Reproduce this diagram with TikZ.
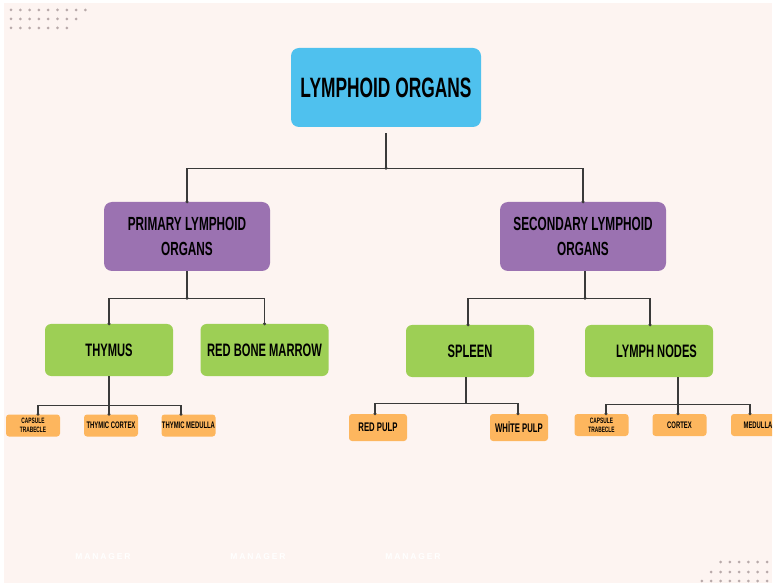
\documentclass[tikz,border=0pt]{standalone}
\usepackage{fontspec}
\newfontfamily\cond[FakeStretch=0.62]{Liberation Sans}
\newfontfamily\wmfont[LetterSpace=22]{Liberation Sans}
\definecolor{bg}{HTML}{FDF4F1}
\definecolor{cblue}{HTML}{4FC1EE}
\definecolor{cpurple}{HTML}{9B72B1}
\definecolor{cgreen}{HTML}{9DCF55}
\definecolor{corange}{HTML}{FDB65E}
\definecolor{cline}{HTML}{3A3A3A}
\definecolor{cdot}{HTML}{B8AAAA}
\begin{document}
\begin{tikzpicture}[x=1pt,y=-1pt,
  box/.style={rounded corners=#1, inner sep=0pt, align=center, text=black},
  lvlA/.style={box=8pt, fill=cblue, minimum width=190pt, minimum height=79pt,
     font=\cond\bfseries\fontsize{28}{30}\selectfont},
  lvlB/.style={box=8pt, fill=cpurple, minimum width=166pt, minimum height=69pt,
     font=\cond\bfseries\fontsize{19}{25}\selectfont},
  lvlC/.style={box=6pt, fill=cgreen, minimum width=128pt, minimum height=52pt,
     font=\cond\bfseries\fontsize{18}{20}\selectfont},
  lvlD/.style={box=3pt, fill=corange, minimum width=54pt, minimum height=22pt,
     font=\cond\bfseries\fontsize{9.5}{9.5}\selectfont},
  lvlDs/.style={box=3pt, fill=corange, minimum width=54pt, minimum height=22pt,
     font=\cond\bfseries\fontsize{7.8}{9}\selectfont},
  lvlE/.style={box=3pt, fill=corange, minimum width=58pt, minimum height=27pt,
     font=\cond\bfseries\fontsize{12.5}{13}\selectfont},
  conn/.style={draw=cline, line width=1.1pt},
  jdot/.style={fill=cline},
  wm/.style={text=white, font=\wmfont\bfseries\fontsize{8.5}{9}\selectfont, inner sep=0pt}
]
\useasboundingbox (0,0) rectangle (774,585);
\fill[white] (0,0) rectangle (774,585);
\fill[bg] (4,3) rectangle (772,583);
\begin{scope}
\clip (4,3) rectangle (772,583);

% decorative dots
\foreach \r/\n in {10/9,19/8,28/7}{
  \foreach \i in {1,...,\n}{
    \fill[cdot] ({11+(\i-1)*9.3},\r) circle (1.5);
  }
}
\foreach \r/\n in {562/6,572/7,581/8}{
  \foreach \i in {1,...,\n}{
    \fill[cdot] ({767-(\i-1)*9.3},\r) circle (1.5);
  }
}

% watermark
\node[wm] (wm1) at (103,557) {MANAGER};
\node[wm] (wm2) at (258,557) {MANAGER};
\node[wm] (wm3) at (413,557) {MANAGER};

% nodes
\node[lvlA] (top) at (386,87.5) {LYMPHOID ORGANS};
\node[lvlB] (prim) at (187,236.5) {PRIMARY LYMPHOID\\ORGANS};
\node[lvlB] (sec) at (583,236.5) {SECONDARY LYMPHOID\\ORGANS};
\node[lvlC] (thy) at (109,350) {THYMUS};
\node[lvlC] (rbm) at (264.5,350) {RED BONE MARROW};
\node[lvlC] (spl) at (470,351) {SPLEEN};
\node[lvlC] (lym) at (649,351) {\hspace*{15pt}LYMPH NODES};
\node[lvlDs] (cap1) at (33,425.5) {CAPSULE\\TRABECLE};
\node[lvlD] (tcor) at (111,425.5) {THYMIC CORTEX};
\node[lvlD] (tmed) at (188.5,425.5) {THYMIC MEDULLA};
\node[lvlE] (rp) at (378,427.5) {RED PULP};
\node[lvlE] (wp) at (519,427.5) {WHİTE PULP};
\node[lvlDs] (cap2) at (601.5,425) {CAPSULE\\TRABECLE};
\node[lvlD] (lcor) at (679.5,425) {CORTEX};
\node[lvlD] (lmed) at (758,425) {MEDULLA};

% connectors level 1
\coordinate (j1) at ([yshift=-41pt]top.south);
\draw[conn] ([yshift=-6pt]top.south) -- (j1);
\draw[conn] (prim.north) |- (j1) -| (sec.north);
\foreach \p in {j1, prim.north, sec.north} \fill[jdot] (\p) circle (1.7);

% primary
\coordinate (j2) at ([yshift=-27pt]prim.south);
\draw[conn] (prim.south) -- (j2);
\draw[conn] (thy.north) |- (j2) -| (rbm.north);
\foreach \p in {j2, thy.north, rbm.north} \fill[jdot] (\p) circle (1.7);

% secondary
\coordinate (j3) at ([xshift=2pt,yshift=-27pt]sec.south);
\draw[conn] ([xshift=2pt]sec.south) -- (j3);
\draw[conn] ([xshift=-2pt]spl.north) coordinate (s1) |- (j3) -| ([xshift=1pt]lym.north) coordinate (s2);
\foreach \p in {j3, s1, s2} \fill[jdot] (\p) circle (1.7);

% thymus
\coordinate (j4) at ([yshift=-29pt]thy.south);
\draw[conn] (thy.south) -- (j4);
\draw[conn] ([xshift=5pt]cap1.north) coordinate (t1) |- (j4);
\draw[conn] ([xshift=-2pt]tcor.north) coordinate (t2) -- (t2 |- j4);
\draw[conn] (j4) -| ([xshift=-7.5pt]tmed.north) coordinate (t3);
\foreach \p in {t1, t2, t3} \fill[jdot] (\p) circle (1.6);

% spleen
\coordinate (j5) at ([xshift=-4pt,yshift=-26pt]spl.south);
\draw[conn] ([xshift=-4pt]spl.south) -- (j5);
\draw[conn] ([xshift=-3pt]rp.north) coordinate (r1) |- (j5) -| ([xshift=-1pt]wp.north) coordinate (r2);
\foreach \p in {r1, r2} \fill[jdot] (\p) circle (1.6);

% lymph nodes
\coordinate (j6) at ([xshift=29pt,yshift=-27pt]lym.south);
\draw[conn] ([xshift=29pt]lym.south) -- (j6);
\draw[conn] ([xshift=4.5pt]cap2.north) coordinate (l1) |- (j6) -| ([xshift=-8pt]lmed.north) coordinate (l3);
\draw[conn] ([xshift=-1.5pt]lcor.north) coordinate (l2) -- (l2 |- j6);
\foreach \p in {l1, l2, l3} \fill[jdot] (\p) circle (1.6);
\end{scope}
\end{tikzpicture}
\end{document}
